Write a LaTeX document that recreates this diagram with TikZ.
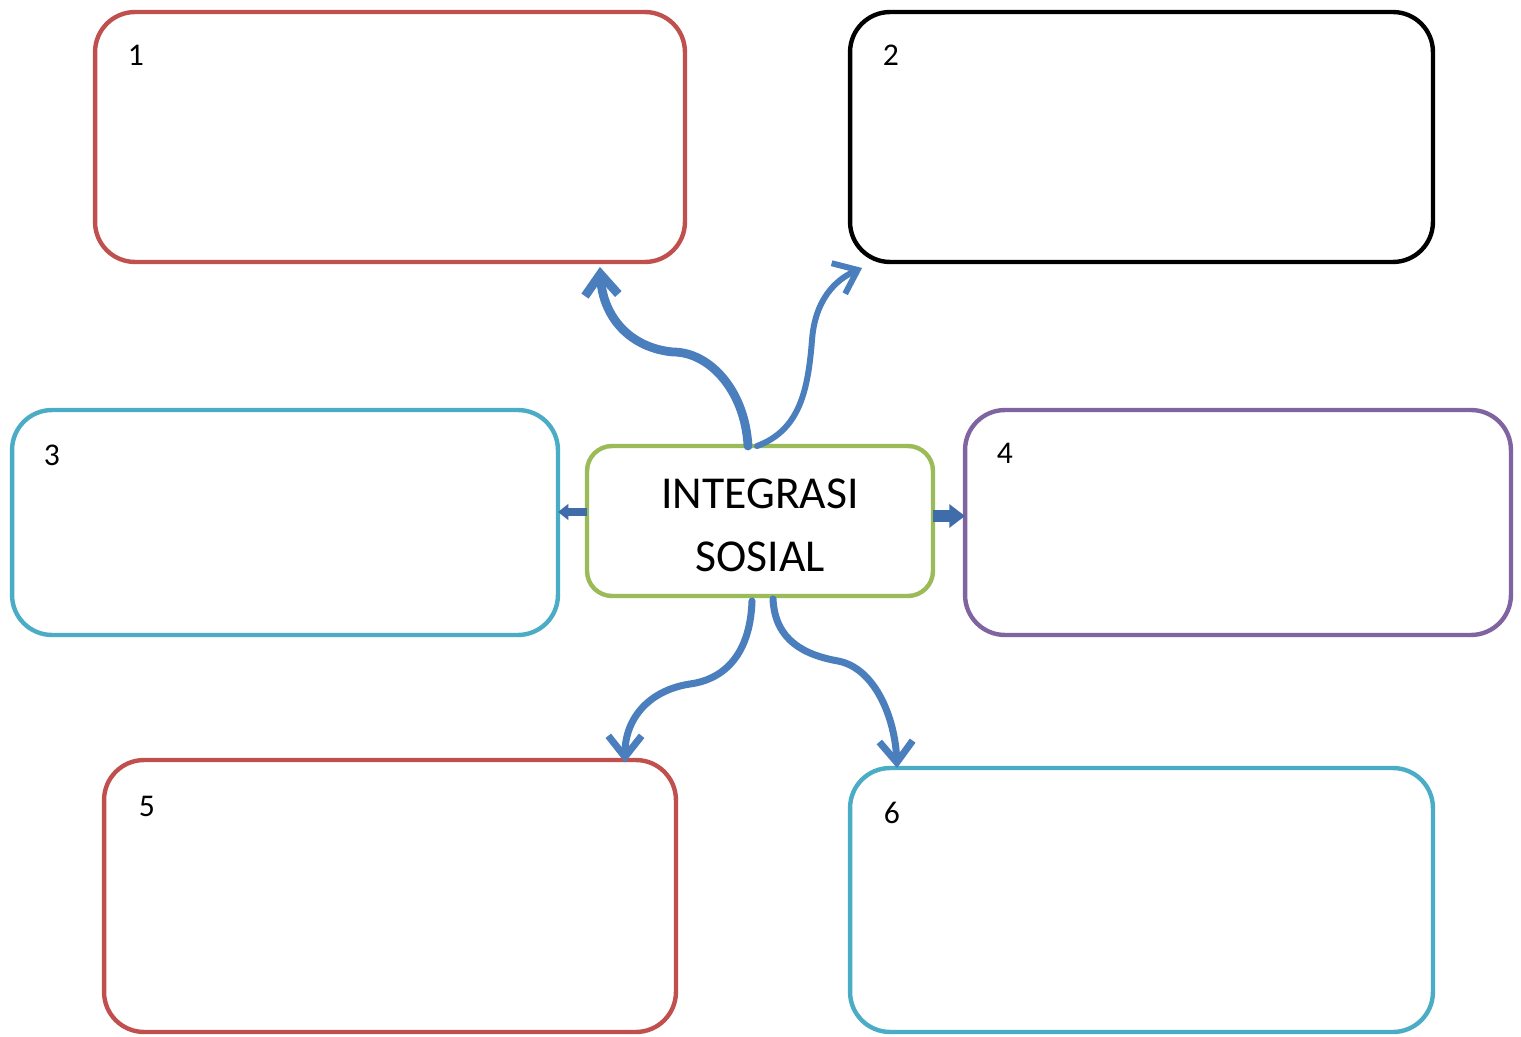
\documentclass[tikz,border=0pt]{standalone}
\usepackage{fontspec}
\setmainfont{Carlito}
\usetikzlibrary{arrows.meta,calc}
\definecolor{cred}{HTML}{C0504D}
\definecolor{ccyan}{HTML}{4BACC6}
\definecolor{cpurple}{HTML}{8064A2}
\definecolor{cgreen}{HTML}{9BBB59}
\definecolor{cblue}{HTML}{4A7EBD}
\definecolor{cdblue}{HTML}{3E6DAA}
\tikzset{
  bx/.style={draw, line width=2.5pt, rounded corners=0.8cm, minimum width=#1, inner sep=0pt, outer sep=0pt},
  lbl/.style={font=\fontsize{18}{20}\selectfont, inner sep=0pt},
  conn/.style={draw=cblue, line width=#1, line cap=round, -{Straight Barb[length=12pt,width=19pt,line width=#1]}},
  blockarr/.style={draw=cdblue, line width=#1}
}
\begin{document}
\begin{tikzpicture}[x=0.02cm,y=-0.02cm]
\useasboundingbox (0,0) rectangle (1521,1037);
\fill[white] (0,0) rectangle (1521,1037);
% boxes
\node[bx=11.8cm, draw=cred, minimum height=5.0cm] (b1) at (390,137) {};
\node[bx=11.66cm, draw=black, minimum height=5.0cm] (b2) at (1141.5,137) {};
\node[bx=10.92cm, draw=ccyan, minimum height=4.5cm] (b3) at (285,522.5) {};
\node[bx=10.92cm, draw=cpurple, minimum height=4.5cm] (b4) at (1238,522.5) {};
\node[bx=11.44cm, draw=cred, minimum height=5.44cm] (b5) at (390,896) {};
\node[bx=11.66cm, draw=ccyan, minimum height=5.28cm] (b6) at (1141.5,900) {};
\node[draw=cgreen, line width=2.5pt, rounded corners=0.5cm, minimum width=6.92cm, minimum height=3.0cm, inner sep=0pt, outer sep=0pt,
      align=center, font=\fontsize{26}{36}\selectfont] (c) at (760,521) {};
\node[font=\fontsize{26}{36}\selectfont, align=center, inner sep=0pt] (ct) at (760,525) {INTEGRASI\\SOSIAL};
% labels
\node[lbl] (l1) at (136,55) {1};
\node[lbl] (l2) at (891,55) {2};
\node[lbl] (l3) at (52,455) {3};
\node[lbl] (l4) at (1005,453) {4};
\node[lbl] (l5) at (147,806) {5};
\node[lbl] (l6) at (892,813) {6};
% curved connectors
\draw[conn=5pt] ([xshift=-0.24cm]c.north) .. controls +(-3,-55) and +(37,0) .. (673,352)
   .. controls +(-43,-4) and +(3,50) .. ([xshift=4.2cm,yshift=-0.1cm]b1.south);
\draw[conn=3.4pt] ([xshift=-0.06cm]c.north) .. controls +(43,-16) and +(-4,50) .. (812,340)
   .. controls +(3,-40) and +(-27,12) .. ([xshift=0.24cm,yshift=-0.12cm]b2.south west);
\draw[conn=4pt] ([xshift=-0.16cm,yshift=-0.1cm]c.south) .. controls +(-2,58) and +(30,-4) .. (690,684)
   .. controls +(-40,6) and +(0,-45) .. ([xshift=4.7cm,yshift=-0.05cm]b5.north);
\draw[conn=4pt] ([xshift=0.26cm,yshift=-0.06cm]c.south) .. controls +(2,42) and +(-33,-6) .. (838,661)
   .. controls +(37,7) and +(-2,-50) .. ([xshift=-4.89cm]b6.north);
% block arrows
\draw[blockarr=4pt, -{Triangle[length=6pt,width=9pt]}] (c.west |- 0,512) -- (b3.east |- 0,512);
\draw[blockarr=6.5pt, -{Triangle[length=9pt,width=13pt]}] (c.east |- 0,516) -- (b4.west |- 0,516);
\end{tikzpicture}
\end{document}
